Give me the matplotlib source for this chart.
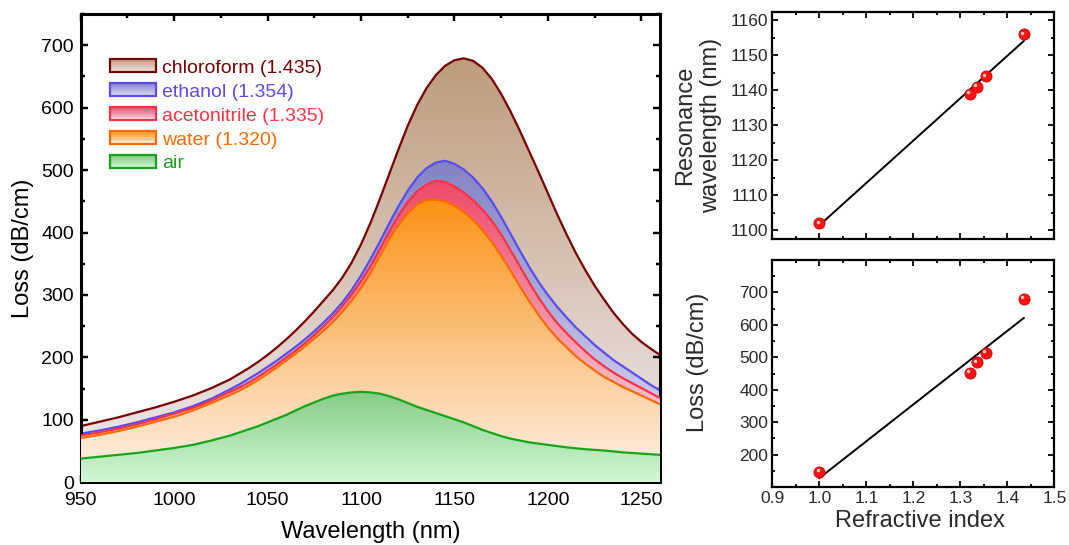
import matplotlib
matplotlib.use('Agg')

import matplotlib.pyplot as plt
import numpy as np
from matplotlib.colors import LinearSegmentedColormap, to_rgb
from matplotlib.legend_handler import HandlerBase
from matplotlib.patches import Patch, Polygon, Rectangle
from matplotlib.ticker import MultipleLocator
from matplotlib.transforms import offset_copy

plt.rcParams['font.family'] = ['Liberation Sans', 'DejaVu Sans']

# ---- 左图：损耗谱 ----
wavelength = [950, 960, 970, 980, 990, 1000, 1010, 1020] + list(range(1030, 1261, 5))

loss_chloroform = [90, 97, 104, 112, 120, 129, 139, 151,
                   165, 174, 183, 193, 204, 216, 229, 243, 258, 274,
                   291, 308, 328, 352, 381, 415, 453, 493, 533, 571,
                   604, 631, 652, 667, 676, 679, 675, 664, 646, 622,
                   594, 563, 530, 497, 463, 429, 397, 367, 340, 315,
                   293, 272, 254, 238, 225, 214, 204]
loss_ethanol = [78, 83, 89, 96, 104, 112, 122, 134,
                149, 157, 166, 175, 185, 195, 206, 217, 229, 242,
                256, 271, 288, 308, 331, 357, 385, 414, 442, 467,
                488, 503, 512, 515, 510, 501, 488, 471, 450, 425,
                398, 371, 345, 321, 300, 281, 264, 248, 234, 220,
                208, 196, 186, 176, 166, 156, 147]
loss_acetonitrile = [75, 80, 86, 93, 101, 110, 119, 131,
                     145, 152, 160, 169, 179, 189, 200, 211, 223, 236,
                     250, 265, 282, 301, 322, 346, 373, 401, 427, 449,
                     466, 477, 483, 481, 474, 464, 452, 437, 419, 397,
                     372, 346, 320, 296, 274, 255, 239, 224, 210, 197,
                     186, 176, 167, 159, 151, 143, 135]
loss_water = [71, 76, 82, 89, 97, 105, 115, 127,
              140, 147, 155, 164, 174, 184, 195, 206, 218, 230,
              243, 257, 273, 291, 311, 335, 362, 389, 412, 431,
              445, 452, 453, 450, 443, 433, 420, 404, 385, 363,
              339, 314, 290, 268, 248, 231, 216, 202, 190, 179,
              169, 161, 153, 146, 139, 132, 125]
loss_air = [38, 41, 44, 47, 51, 55, 60, 67,
            75, 80, 85, 90, 96, 102, 108, 115, 122, 128,
            134, 139, 142, 144, 145, 144, 142, 138, 133, 127,
            121, 116, 111, 106, 101, 96, 90, 84, 79, 74,
            70, 67, 64, 62, 60, 58, 56, 54.5, 53, 52,
            51, 49.5, 48, 47, 46, 45, 44]

labels = ['chloroform (1.435)', 'ethanol (1.354)', 'acetonitrile (1.335)', 'water (1.320)', 'air']

# ---- 右图：共振波长/峰值损耗 vs 折射率 ----
ref_index = [1.000, 1.320, 1.335, 1.354, 1.435]
res_wavelength = [1102, 1139, 1141, 1144, 1156]
peak_loss = [146, 453, 484, 514, 680]

# (线色, 渐变底色, 渐变顶色)
styles = [
    ('#7A0000', '#F1ECF1', '#BD9C7C'),
    ('#5B4CF2', '#E2E2F8', '#8383C4'),
    ('#FF3345', '#FCE6EE', '#EF4A6A'),
    ('#FF6A00', '#FDF4EC', '#FB9214'),
    ('#18A418', '#D2F8D6', '#86CB86'),
]


class GradientHandler(HandlerBase):
    def __init__(self, c_low, c_high, edge):
        super().__init__()
        self.c_low = np.array(to_rgb(c_low))
        self.c_high = np.array(to_rgb(c_high))
        self.edge = edge

    def create_artists(self, legend, orig_handle, xdescent, ydescent, width, height, fontsize, trans):
        arts = []
        n = 14
        for i in range(n):
            t = (i + 0.5) / n
            c = self.c_low * (1 - t) + self.c_high * t
            arts.append(Rectangle((-xdescent, -ydescent + height * i / n), width, height / n + 0.3,
                                  facecolor=c, edgecolor='none', transform=trans))
        arts.append(Rectangle((-xdescent, -ydescent), width, height, facecolor='none',
                              edgecolor=self.edge, lw=1.6, transform=trans))
        return arts


def gradient_fill(ax, x, y, edge, c_low, c_high, z):
    cmap = LinearSegmentedColormap.from_list('g', [c_low, c_high])
    verts = np.column_stack([np.r_[x, x[::-1]], np.r_[y, np.zeros(len(x))]])
    poly = Polygon(verts, closed=True, facecolor='none', edgecolor='none')
    ax.add_patch(poly)
    grad = np.linspace(0, 1, 256).reshape(-1, 1)
    im = ax.imshow(grad, cmap=cmap, aspect='auto', origin='lower',
                   extent=[x.min(), x.max(), 0, y.max()], zorder=z, interpolation='bilinear')
    im.set_clip_path(poly)
    ax.plot(x, y, color=edge, lw=1.6, zorder=z + 0.5, solid_joinstyle='round')


def style_axes(ax, lw):
    for s in ax.spines.values():
        s.set_linewidth(lw)
    ax.tick_params(which='both', direction='in', top=True, right=True, width=lw * 0.8)


fig = plt.figure(figsize=(10.69, 5.45), dpi=100)

ax = fig.add_axes([0.0755, 0.1150, 0.5419, 0.8593])
wl = np.array(wavelength, dtype=float)
series = [loss_chloroform, loss_ethanol, loss_acetonitrile, loss_water, loss_air]
for i, (vals, (edge, lo, hi)) in enumerate(zip(series, styles)):
    gradient_fill(ax, wl, np.array(vals, dtype=float), edge, lo, hi, 1 + i)

ax.set_xlim(950, 1260)
ax.set_ylim(0, 750)
ax.set_xticks(np.arange(950, 1251, 50))
ax.set_yticks(np.arange(0, 701, 100))
ax.xaxis.set_minor_locator(MultipleLocator(25))
ax.yaxis.set_minor_locator(MultipleLocator(50))
style_axes(ax, 2.2)
ax.tick_params(which='major', length=5, labelsize=14)
ax.tick_params(which='minor', length=3)
ax.tick_params(axis='x', pad=7)
ax.tick_params(axis='y', pad=5)
ax.set_xlabel('Wavelength (nm)', fontsize=17)
ax.set_ylabel('Loss (dB/cm)', fontsize=17, va='center')
ax.xaxis.set_label_coords(0.5, -0.082)
ax.yaxis.set_label_coords(-0.099, 0.5)

handles = [Patch(label=l) for l in labels]
hmap = {h: GradientHandler(lo, hi, edge) for h, (edge, lo, hi) in zip(handles, styles)}
leg = ax.legend(handles=handles, handler_map=hmap, loc='upper left',
                bbox_to_anchor=(0.05, 0.903), frameon=False, fontsize=14,
                handlelength=2.4, handleheight=0.65, handletextpad=0.3,
                labelspacing=0.34, borderpad=0, borderaxespad=0)
for txt, (edge, _, _) in zip(leg.get_texts(), styles):
    txt.set_color(edge)

# ---- 右上 ----
gray = '#2a2a2a'
x_fit = np.array([min(ref_index), max(ref_index)])

ax1 = fig.add_axes([0.7225, 0.5615, 0.2638, 0.4171])
k, b = np.polyfit(ref_index, res_wavelength, 1)
ax1.plot(x_fit, k * x_fit + b, color='black', lw=1.4, zorder=2)
ax1.plot(ref_index, res_wavelength, 'o', ms=8, color='#FF1212', mec='#D00000', mew=0.6, zorder=3)
ax1.plot(ref_index, res_wavelength, 'o', ms=2.5, color='#FFC8C8', mec='none', zorder=4,
         transform=offset_copy(ax1.transData, fig=fig, x=-1.2, y=1.2, units='points'))
ax1.set_xlim(0.9, 1.5)
ax1.set_ylim(1097.5, 1162.5)
ax1.set_xticks(np.arange(0.9, 1.51, 0.1))
ax1.set_yticks(np.arange(1100, 1161, 10))
ax1.xaxis.set_minor_locator(MultipleLocator(0.05))
ax1.yaxis.set_minor_locator(MultipleLocator(5))
ax1.set_xticklabels([])
style_axes(ax1, 1.6)
ax1.tick_params(which='major', length=4, labelsize=12.5, labelcolor=gray, pad=3)
ax1.tick_params(which='minor', length=2.5)
ax1.set_ylabel('Resonance\nwavelength (nm)', fontsize=17, color=gray, linespacing=1.2, va='center')
ax1.yaxis.set_label_coords(-0.263, 0.5)

# ---- 右下 ----
ax2 = fig.add_axes([0.7225, 0.1064, 0.2638, 0.4165])
k, b = np.polyfit(ref_index, peak_loss, 1)
ax2.plot(x_fit, k * x_fit + b, color='black', lw=1.4, zorder=2)
ax2.plot(ref_index, peak_loss, 'o', ms=8, color='#FF1212', mec='#D00000', mew=0.6, zorder=3)
ax2.plot(ref_index, peak_loss, 'o', ms=2.5, color='#FFC8C8', mec='none', zorder=4,
         transform=offset_copy(ax2.transData, fig=fig, x=-1.2, y=1.2, units='points'))
ax2.set_xlim(0.9, 1.5)
ax2.set_ylim(100, 800)
ax2.set_xticks(np.arange(0.9, 1.51, 0.1))
ax2.set_xticklabels([f'{v:.1f}' for v in np.arange(0.9, 1.51, 0.1)])
ax2.set_yticks(np.arange(200, 701, 100))
ax2.xaxis.set_minor_locator(MultipleLocator(0.05))
ax2.yaxis.set_minor_locator(MultipleLocator(50))
style_axes(ax2, 1.6)
ax2.tick_params(which='major', length=4, labelsize=12.5, labelcolor=gray, pad=3)
ax2.tick_params(which='minor', length=2.5)
ax2.set_xlabel('Refractive index', fontsize=17, color=gray)
ax2.set_ylabel('Loss (dB/cm)', fontsize=17, color=gray, va='center')
ax2.xaxis.set_label_coords(0.524, -0.1)
ax2.yaxis.set_label_coords(-0.265, 0.55)

fig.savefig('out.png', dpi=100)
plt.close(fig)
